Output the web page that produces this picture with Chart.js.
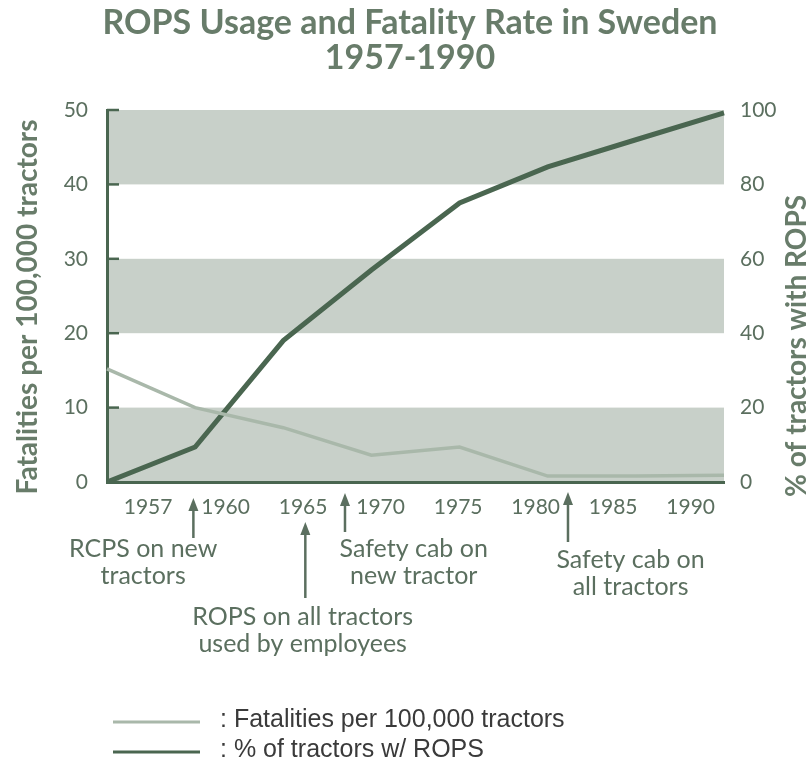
<!DOCTYPE html>
<html>
<head>
<meta charset="utf-8">
<script src="https://cdn.jsdelivr.net/npm/chart.js@4/dist/chart.umd.min.js"></script>
<style>
  html, body { margin: 0; padding: 0; background: #fff; }
</style>
</head>
<body>
<canvas id="myChart" width="812" height="766"></canvas>
<script>
// data
const years = ['1957', '1960', '1965', '1970', '1975', '1980', '1985', '1990'];
const fatalities = [15.2, 10, 7.3, 3.6, 4.7, 0.8, 0.8, 0.9];
const ropsPct = [0, 9.4, 38, 57, 75, 84.7, 92, 99.2];

// events marked under the axis (at = position on the year axis, 0 = first point)
const notes = [
    { at: 0.98, tip: 498, tail: 538, textAt: 0.41, textY: 549, lines: ['RCPS on new', 'tractors'] },
    { at: 2.25, tip: 522, tail: 598, textAt: 2.22, textY: 617, lines: ['ROPS on all tractors', 'used by employees'] },
    { at: 2.70, tip: 493, tail: 532, textAt: 3.48, textY: 549, lines: ['Safety cab on', 'new tractor'] },
    { at: 5.23, tip: 492, tail: 542, textAt: 5.94, textY: 560, lines: ['Safety cab on', 'all tractors'] }
];

const titleColor = '#687c6a';
const textColor = '#5b6f5f';
const darkGreen = '#4a6650';
const lightGreen = '#a9b8aa';
const bandColor = '#c8d0c9';

// grey bands behind the plot
const bandsPlugin = {
    id: 'bands',
    beforeDraw(chart) {
        const { ctx, chartArea, scales } = chart;
        const y = scales.y;
        ctx.save();
        ctx.fillStyle = bandColor;
        for (let i = 0; i < y.ticks.length - 1; i += 2) {
            const top = y.getPixelForValue(y.ticks[i + 1].value);
            const bot = y.getPixelForValue(y.ticks[i].value);
            ctx.fillRect(chartArea.left, top, chartArea.right - chartArea.left, bot - top);
        }
        ctx.restore();
    },
    beforeDatasetsDraw(chart) {
        // short tick marks inside the left axis
        const { ctx, chartArea, scales } = chart;
        ctx.save();
        ctx.strokeStyle = darkGreen;
        ctx.lineWidth = 2.5;
        scales.y.ticks.forEach(t => {
            const py = scales.y.getPixelForValue(t.value);
            ctx.beginPath();
            ctx.moveTo(chartArea.left, py);
            ctx.lineTo(chartArea.left + 12, py);
            ctx.stroke();
        });
        ctx.restore();
    }
};

// titles, event arrows and the legend
const textPlugin = {
    id: 'texts',
    afterDraw(chart) {
        const { ctx, scales } = chart;
        ctx.save();

        ctx.fillStyle = titleColor;
        ctx.textAlign = 'center';
        ctx.textBaseline = 'middle';
        ctx.font = 'bold 34px Lato';
        ctx.fillText('ROPS Usage and Fatality Rate in Sweden', 410, 23);
        ctx.fillText('1957-1990', 410, 58);

        // axis titles
        ctx.font = 'bold 28px Lato';
        ctx.save();
        ctx.translate(28, 307);
        ctx.rotate(-Math.PI / 2);
        ctx.fillText('Fatalities per 100,000 tractors', 0, 0);
        ctx.restore();
        ctx.save();
        ctx.translate(797, 346);
        ctx.rotate(-Math.PI / 2);
        ctx.fillText('% of tractors with ROPS', 0, 0);
        ctx.restore();

        // event arrows
        ctx.strokeStyle = textColor;
        ctx.fillStyle = textColor;
        ctx.lineWidth = 2.5;
        ctx.font = '25px Lato';
        notes.forEach(n => {
            const ax = scales.x.getPixelForValue(n.at);
            ctx.beginPath();
            ctx.moveTo(ax, n.tip + 10);
            ctx.lineTo(ax, n.tail);
            ctx.stroke();
            ctx.beginPath();
            ctx.moveTo(ax, n.tip);
            ctx.lineTo(ax - 5, n.tip + 13);
            ctx.lineTo(ax + 5, n.tip + 13);
            ctx.closePath();
            ctx.fill();
            const tx = scales.x.getPixelForValue(n.textAt);
            n.lines.forEach((l, i) => ctx.fillText(l, tx, n.textY + i * 27));
        });

        // legend
        ctx.textAlign = 'left';
        ctx.font = '25px "Liberation Sans"';
        chart.data.datasets.forEach((ds, i) => {
            const ly = 721 + i * 30;
            ctx.strokeStyle = ds.borderColor;
            ctx.lineWidth = 3;
            ctx.beginPath();
            ctx.moveTo(113, ly + 1);
            ctx.lineTo(200, ly + 1);
            ctx.stroke();
            ctx.fillStyle = '#3a3a3a';
            ctx.fillText(': ' + ds.label, 220, ly - 1);
        });
        ctx.restore();
    }
};

const tickFont = { family: 'Lato', size: 21 };

const config = {
    type: 'line',
    data: {
        labels: years,
        datasets: [{
            label: 'Fatalities per 100,000 tractors',
            data: fatalities,
            yAxisID: 'y',
            borderColor: lightGreen,
            borderWidth: 3.5,
            pointRadius: 0,
            tension: 0
        }, {
            label: '% of tractors w/ ROPS',
            data: ropsPct,
            yAxisID: 'y2',
            borderColor: darkGreen,
            borderWidth: 5,
            pointRadius: 0,
            tension: 0
        }]
    },
    options: {
        responsive: false,
        animation: false,
        layout: { padding: { top: 110, left: 0, right: 0, bottom: 0 } },
        plugins: { legend: { display: false }, tooltip: { enabled: false } },
        scales: {
            x: { type: 'category', display: false, offset: false },
            xYears: {
                type: 'linear',
                position: 'bottom',
                min: -0.53,
                max: 7.43,
                afterBuildTicks: s => { s.ticks = years.map((y, i) => ({ value: i })); },
                ticks: {
                    callback: v => years[v],
                    color: textColor,
                    font: tickFont,
                    padding: 13,
                    autoSkip: false,
                    maxRotation: 0
                },
                grid: { display: false, drawTicks: false },
                border: { color: darkGreen, width: 3 },
                afterFit: s => { s.height = 284; }
            },
            y: {
                position: 'left',
                min: 0,
                max: 50,
                ticks: { stepSize: 10, color: textColor, font: tickFont, padding: 19 },
                grid: { display: false, drawTicks: false },
                border: { color: darkGreen, width: 3 },
                afterFit: s => { s.width = 107; }
            },
            y2: {
                position: 'right',
                min: 0,
                max: 100,
                ticks: { stepSize: 20, color: textColor, font: tickFont, padding: 16 },
                grid: { display: false, drawTicks: false },
                border: { display: false },
                afterFit: s => { s.width = 88; }
            }
        }
    },
    plugins: [bandsPlugin, textPlugin]
};

const myChart = new Chart(document.getElementById('myChart'), config);
</script>
</body>
</html>
